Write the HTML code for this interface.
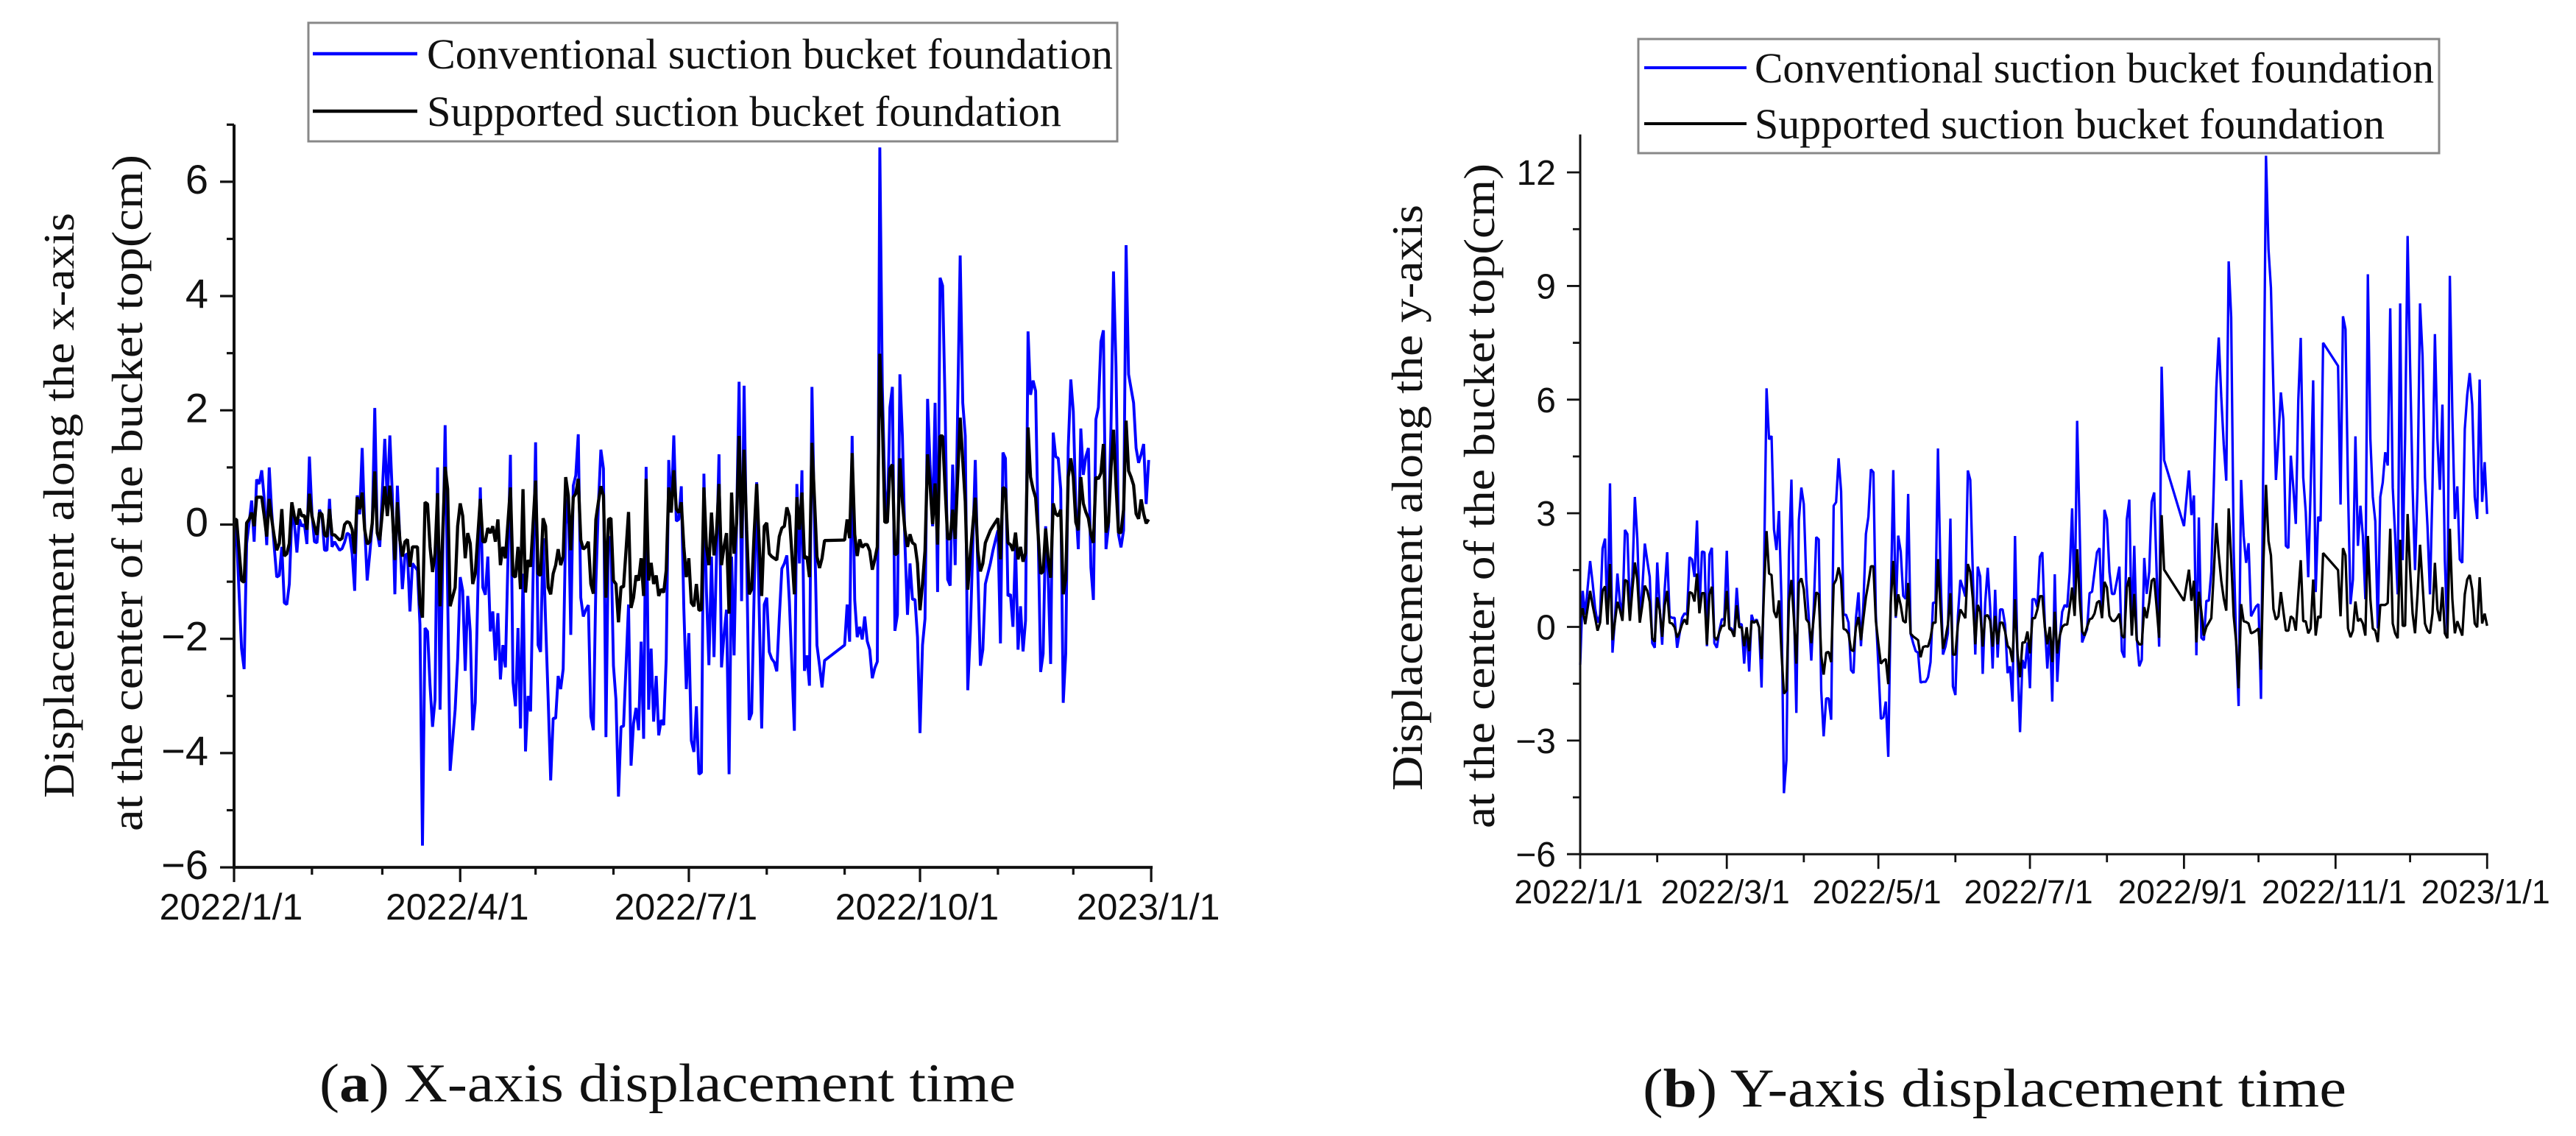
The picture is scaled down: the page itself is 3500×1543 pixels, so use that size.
<!DOCTYPE html>
<html lang="en">
<head>
<meta charset="utf-8">
<title>Displacement time charts</title>
<style>
html,body{margin:0;padding:0;background:#fff;}
svg{display:block;}
.serif{font-family:"Liberation Serif",serif;fill:#111;}
.sans{font-family:"Liberation Sans",sans-serif;fill:#111;}
</style>
</head>
<body>
<svg id="fig" xmlns="http://www.w3.org/2000/svg" width="3500" height="1543" viewBox="0 0 3500 1543">
  <rect x="0" y="0" width="3500" height="1543" fill="#fff"/>

  <g id="chartA"></g>
  <g id="chartB"></g>

  <g>
    <rect x="419" y="31" width="1099" height="161" fill="#fff" stroke="#888" stroke-width="3"/>
    <line x1="425" y1="73" x2="567" y2="73" stroke="#0000ff" stroke-width="4.5"/>
    <line x1="425" y1="151" x2="567" y2="151" stroke="#000" stroke-width="4.5"/>
    <text class="serif" x="580" y="93" font-size="58" textLength="932" lengthAdjust="spacingAndGlyphs">Conventional suction bucket foundation</text>
    <text class="serif" x="580" y="171" font-size="58" textLength="862" lengthAdjust="spacingAndGlyphs">Supported suction bucket foundation</text>
  </g>

  <g>
    <rect x="2226" y="53" width="1088" height="155" fill="#fff" stroke="#888" stroke-width="3"/>
    <line x1="2234" y1="92" x2="2373" y2="92" stroke="#0000ff" stroke-width="4"/>
    <line x1="2234" y1="168" x2="2373" y2="168" stroke="#000" stroke-width="4"/>
    <text class="serif" x="2384" y="112" font-size="58" textLength="923" lengthAdjust="spacingAndGlyphs">Conventional suction bucket foundation</text>
    <text class="serif" x="2384" y="188" font-size="58" textLength="856" lengthAdjust="spacingAndGlyphs">Supported suction bucket foundation</text>
  </g>

  <text class="serif" transform="translate(100,1084) rotate(-90)" font-size="59" textLength="795" lengthAdjust="spacingAndGlyphs">Displacement along the x-axis</text>
  <text class="serif" transform="translate(193,1129) rotate(-90)" font-size="59" textLength="919" lengthAdjust="spacingAndGlyphs">at the center of the bucket top(cm)</text>
  <text class="serif" transform="translate(1932,1074) rotate(-90)" font-size="59" textLength="796" lengthAdjust="spacingAndGlyphs">Displacement along the y-axis</text>
  <text class="serif" transform="translate(2030,1125) rotate(-90)" font-size="59" textLength="903" lengthAdjust="spacingAndGlyphs">at the center of the bucket top(cm)</text>

  <text class="serif" x="434" y="1496" font-size="74" textLength="946" lengthAdjust="spacingAndGlyphs">(<tspan font-weight="bold">a</tspan>) X-axis displacement time</text>
  <text class="serif" x="2232" y="1503" font-size="74" textLength="956" lengthAdjust="spacingAndGlyphs">(<tspan font-weight="bold">b</tspan>) Y-axis displacement time</text>
</svg>

<script>
// ---------- shared calendar ----------
const monthStartDays = [0,31,59,90,120,151,181,212,243,273,304,334,365];

// ---------- chart (a): x-axis displacement ----------
const aDays = [
0,1,3,4,5,6,7,8,9,10,
11,12,13,14,15,16,17,18,19,20,
21,22,23,24,25,26,27,28,29,30,
31,32,33,34,35,36,37,38,39,40,
42,43,44,45,46,47,48,49,50,51,
52,53,54,55,56,57,58,60,61,62,
63,64,65,66,67,68,69,70,71,73,
74,75,76,77,78,79,80,81,82,84,
85,86,88,89,90,91,92,93,94,95,
96,98,99,100,101,102,103,104,105,106,
107,108,110,111,112,113,114,115,116,117,
118,120,121,122,123,124,125,126,127,128,
129,130,131,132,133,134,135,136,137,138,
139,140,141,142,143,144,145,146,147,148,
149,150,151,152,153,154,155,156,157,158,
159,160,161,162,163,164,165,166,167,168,
169,170,171,172,173,174,175,176,177,178,
179,180,181,182,183,184,185,186,187,188,
189,190,191,192,193,194,195,196,197,198,
199,200,201,202,203,204,205,206,207,208,
209,210,211,212,213,214,215,216,217,218,
219,220,221,222,223,224,225,226,227,228,
229,230,231,232,233,234,235,243,244,245,
246,247,248,249,250,251,252,253,254,255,
256,257,258,259,260,261,262,263,264,265,
266,267,268,269,270,271,272,273,274,275,
276,277,278,279,280,281,282,283,284,285,
286,287,288,289,290,291,292,293,294,295,
296,297,298,299,300,301,302,303,304,305,
306,307,308,309,310,311,312,313,314,315,
316,317,318,319,320,321,322,323,324,325,
326,327,328,329,330,331,332,333,334,335,
336,337,338,339,340,341,342,343,344,345,
346,347,348,349,350,351,352,353,354,355,
356,357,358,359,360,361,362,363,364
];
const aConventional = [
0,-.2,-2.17,-2.53,-.33,.03,.42,-.3,.79,.71,
.95,.45,-.36,1,.21,-.39,-.92,-.89,-.39,-1.37,
-1.4,-1.04,.15,.03,-.49,.09,-.03,0,-.34,1.19,
.21,-.3,-.32,.26,.15,-.45,-.45,.45,-.39,-.3,
-.45,-.42,-.31,-.15,-.18,-.51,-1.16,.51,.18,1.34,
-.03,-.98,-.51,0,2.04,-.15,-.39,1.5,.39,1.56,
.51,-1.22,.68,-.27,-1.13,-.54,-.51,-1.52,-.68,-.8,
-1.75,-5.62,-1.81,-1.87,-2.82,-3.54,-3.06,1,-3.24,1.74,
-1.16,-4.31,-3.24,-2.35,-.92,-1.16,-2.56,-1.25,-1.87,-3.6,
-3.12,.65,-1.1,-1.23,-.56,-1.87,-1.52,-2.38,-1.55,-2.71,
-2.11,-2.5,1.22,-2.76,-3.18,-1.81,-3.57,-.86,-3.97,-3,
-3.27,1.44,-2.11,-2.23,-.24,-1.7,-3.06,-4.48,-3.39,-3.39,
-2.65,-2.88,-2.53,0,.51,-1.93,.68,.86,1.58,-1.28,
-1.61,-1.49,-1.41,-3.36,-3.6,-1.04,.33,1.31,.98,-3.72,
-.21,-.27,-2.47,-3.06,-4.76,-3.54,-3.53,-2.47,-1.4,-4.22,
-3.48,-3.21,-3.6,-2.05,-3.75,1.01,-3.24,-2.17,-3.45,-2.65,
-3.69,-3.42,-3.51,-2.35,1.13,.21,1.56,.06,.09,.67,
-1.46,-2.88,-1.9,-3.78,-3.98,-3.18,-4.37,-4.34,.89,-1.16,
-2.46,-.56,-2.32,-.56,1.23,-2.5,-1.93,-1.49,-4.37,-.56,
-2.29,.03,2.5,-1.34,2.43,-.56,-3.42,-3.3,-1.16,.74,
-1.46,-3.57,-1.4,-1.28,-2.23,-2.35,-2.41,-2.57,-1.64,-.77,
-.68,-.54,-1.34,-2.47,-3.61,.71,-.68,.95,-2.56,-2.29,
-2.82,2.41,.03,-2.11,-2.47,-2.85,-2.38,-2.11,-1.4,-2.05,
1.55,-1.32,-1.97,-1.79,-2.01,-1.61,-2.04,-2.19,-2.69,-2.51,
-2.4,6.6,2.4,.62,.04,2.05,2.41,-1.86,-1.58,2.63,
1.55,-.32,-1.58,-.68,-1.31,-1.31,-1.97,-3.65,-2.11,-1.65,
2.2,1.05,-.03,2.13,-1.18,4.32,4.18,2.05,-.96,-1.07,
1.05,-.71,2.05,4.71,2.13,1.55,-2.9,-1.9,-.39,1.13,
-.75,-2.47,-2.19,-1.04,-.86,-.68,-.46,-.28,-.1,-2.08,
1.26,1.16,-1.25,-1.22,-1.79,-.35,-2.19,-1.43,-2.22,-1.68,
3.38,2.27,2.52,2.34,-.1,-2.58,-2.26,-.03,-.89,-2.44,
1.61,1.19,1.16,.62,-3.12,-2.26,1.34,2.54,1.98,.33,
-.43,1.68,.87,1.19,1.34,-.75,-1.32,1.84,2.05,3.2,
3.4,-.43,-.03,1.7,4.43,2.77,-.17,-.4,-.1,4.89,
2.63,2.38,2.13,1.34,1.08,1.23,1.41,.36,1.13
];
const aSupported = [
.09,.09,-.98,-1.01,.03,.09,.21,-.03,.48,.48,
.48,.15,-.21,.45,.09,-.21,-.45,-.33,.27,-.55,
-.51,-.33,.39,.15,0,.28,.15,.16,-.09,.54,
.15,-.03,-.18,.21,.18,-.18,-.21,.27,-.18,-.18,
-.27,-.24,0,.05,.03,-.09,-.51,.48,.27,.56,
-.09,-.34,-.3,.03,.93,-.15,-.27,.67,.15,.68,
.21,-.62,.39,-.27,-.56,-.3,-.26,-.74,-.39,-.39,
-1.4,-1.63,.39,.36,-.39,-.83,-.51,.55,-1.43,1.01,
.62,-1.43,-1.1,-.03,.37,.15,-.59,-.15,-.33,-1.04,
-.86,.45,-.3,-.3,-.06,-.15,-.03,-.3,.09,-.71,
-.39,-.59,.65,-.89,-.92,-.39,-1.13,.62,-1.19,-.62,
-.74,.77,-.86,-.89,.11,-.03,-1.1,-1.22,-.86,-.71,
-.43,-.71,-.56,.83,.51,-.45,.48,.54,.8,-.27,
-.43,-.39,-.3,-1.04,-1.21,.09,.39,.67,.51,-1.28,
.09,.11,-.98,-1.04,-1.71,-1.09,-1.09,-.45,.22,-1.46,
-1.28,-.89,-.98,-.59,-1.25,.8,-.98,-.67,-1.04,-.89,
-1.25,-1.13,-1.19,-.8,.65,.21,.95,.27,.21,.39,
-.39,-.92,-.59,-1.37,-1.43,-1.04,-1.5,-1.49,.65,-.39,
-.71,.21,-.54,-.15,.71,-.71,-.39,-.15,-1.56,.56,
-.51,.03,1.55,-.24,1.31,-.09,-1.22,-1.13,-.15,.71,
-.33,-1.25,-.03,.03,-.51,-.56,-.59,-.62,-.21,-.06,
-.03,.3,.15,-.51,-1.22,.48,-.09,.56,-.59,-.56,
-.92,1.43,.45,-.56,-.76,-.59,-.28,-.27,.09,-.24,
1.25,-.17,-.55,-.26,-.4,-.35,-.35,-.46,-.79,-.61,
-.39,2.99,1.84,.04,.04,.98,1.05,-.53,-.5,1.16,
.4,-.1,-.39,-.17,-.32,-.35,-.68,-1.5,-1.04,-.46,
1.23,.69,.01,.72,-.35,1.55,1.55,.62,-.25,-.25,
.26,-.25,.83,1.87,1.12,.4,-1.14,-.53,-.03,.47,
-.46,-.82,-.68,-.32,-.21,-.1,-.03,.04,.11,-.61,
.65,.62,-.32,-.35,-.46,-.14,-.61,-.39,-.65,-.5,
1.7,.83,.62,.47,-.17,-.86,-.82,-.07,-.61,-.93,
.37,.19,.15,.26,-1.22,-.96,.83,1.16,.83,.04,
-.1,.83,.37,.22,.11,-.17,-.32,.83,.8,.9,
1.41,-.14,.04,.98,1.66,.69,-.14,-.14,.26,1.82,
.94,.83,.69,.19,.1,.44,.19,.02,.09
];
const aYMajorTicks = [-6,-4,-2,0,2,4,6];
const aYMinorTicks = [-5,-3,-1,1,3,5,7];
const aYTickLabels = ['\u22126','\u22124','\u22122','0','2','4','6'];
const aXMajorMonths = [0,3,6,9,12];
const aXTickLabels = ['2022/1/1','2022/4/1','2022/7/1','2022/10/1','2023/1/1'];

// ---------- chart (b): y-axis displacement ----------
const bDays = [
0,1,2,3,4,5,6,7,8,9,
10,11,12,13,14,15,16,17,18,19,
20,21,22,23,24,25,26,27,28,29,
30,31,32,33,34,35,36,37,38,39,
40,41,42,43,44,45,46,47,48,49,
50,51,52,53,54,55,56,57,58,59,
60,61,62,63,64,65,66,67,68,69,
70,71,72,73,74,75,76,77,78,79,
80,81,82,83,84,85,86,87,88,89,
90,91,92,93,94,95,96,97,98,99,
100,101,102,103,104,105,106,107,108,109,
110,111,112,113,114,115,116,117,118,119,
120,121,122,123,124,125,126,127,128,129,
130,131,132,133,134,135,136,137,138,139,
140,141,142,143,144,145,146,147,148,149,
150,151,152,153,154,155,156,157,158,159,
160,161,162,163,164,165,166,167,168,169,
170,171,172,173,174,175,176,177,178,179,
180,181,182,183,184,185,186,187,188,189,
190,191,192,193,194,195,196,197,198,199,
200,201,202,203,204,205,206,207,208,209,
210,211,212,213,214,215,216,217,218,219,
220,221,222,223,224,225,226,227,228,229,
230,231,232,233,234,235,243,245,246,247,
248,249,250,251,252,253,254,255,256,257,
258,259,260,261,262,263,264,265,266,267,
268,269,270,271,272,273,274,275,276,277,
278,279,280,281,282,283,284,285,286,287,
288,289,290,291,292,293,294,295,296,297,
298,299,305,306,307,308,309,310,311,312,
313,314,315,316,317,318,319,320,321,322,
323,324,325,326,327,328,329,330,331,332,
333,334,335,336,337,338,339,340,341,342,
343,344,345,346,347,348,349,350,351,352,
353,354,355,356,357,358,359,360,361,362,
363,364,365
];
const bConventional = [
-1,.95,.32,1.03,1.74,1.16,.49,.11,.32,2.07,
2.33,.07,3.79,-.68,.24,1.41,.66,.32,2.56,2.45,
.41,1.32,3.43,2.33,.24,.99,2.2,1.74,1.32,-.43,
-.55,1.7,.49,-.47,.99,1.97,.28,.24,.24,-.55,
-.18,.24,.36,.32,1.84,1.78,1.32,2.81,.41,1.99,
1.97,-.51,1.91,2.09,-.43,-.55,-.1,.2,.2,2.01,
-.01,-.05,-.22,1.03,.07,.07,-.97,-.01,-1.18,.32,
.11,.2,-.01,-1.6,1.49,6.3,4.95,5.04,2.58,2.03,
3.06,.66,-4.39,-3.52,1.91,3.89,.66,-2.27,2.82,3.68,
3.24,1.24,.24,-.89,.49,2.37,2.31,-1.68,-2.89,-1.89,
-1.89,-2.45,3.2,3.29,4.45,3.58,.32,.32,.11,-1.14,
-1.22,.24,.91,-.51,.66,2.45,2.91,4.16,4.08,.32,
-1.01,-2.43,-2.39,-1.97,-3.43,.66,4.14,.24,2.41,1.99,
.82,.74,3.51,-.18,-.43,-.64,-.68,-1.47,-1.45,-1.45,
-1.33,-.93,.64,.64,4.71,1.45,-.73,-.52,-.17,2.86,
-1.57,-1.8,.29,1.24,1.04,.8,4.13,3.88,1.45,-.73,
1.59,1.33,-1.24,.64,1.56,.52,-1.1,.98,-.81,.46,
.46,.06,-1.22,-1.04,-1.97,2.4,-.87,-2.78,-.87,-1.1,
-.41,-1.62,.73,.73,.52,1.85,1.97,.06,-1.1,-.06,
-1.97,1.39,-1.45,-.29,.4,.58,.52,1.45,3.13,.4,
5.44,2.6,-.41,-.23,-.06,.89,.93,1.45,1.97,2.08,
.29,3.09,2.84,1.45,.87,.87,1.22,1.59,-.64,-.81,
2.84,3.36,-.23,2.14,-.29,-1.04,-.87,1.82,.87,1.45,
3.3,3.55,1.45,-.52,6.87,4.4,2.66,4.13,2.95,3.47,
-.75,2.89,-.29,-.35,.69,.69,1.45,3.76,6.31,7.64,
6.08,4.81,3.86,9.65,8.17,2.03,-.41,-2.09,3.88,2.4,
1.69,2.21,.28,.41,.54,.6,-1.9,4.97,12.44,9.97,
8.95,6.25,3.88,4.97,6.19,5.48,2.14,2.08,4.52,3.68,
2.72,5.99,7.63,3.94,3.04,1.31,3.68,6.51,.92,2.91,
2.79,7.5,6.89,3.23,8.2,7.86,3.68,.6,1.25,5.03,
2.14,3.2,2.4,.73,9.31,4.97,3.43,2.79,-.04,3.43,
3.81,4.61,4.26,8.41,3.68,2.4,.86,8.54,1.76,4.97,
10.32,6.89,3.68,1.5,3.68,8.54,7.15,3.94,2.66,.86,
3.68,7.73,4.97,3.62,5.87,1.76,-.17,9.27,5.61,2.85,
3.71,1.78,1.69,5.22,6.12,6.7,5.87,3.43,2.85,6.53,
3.3,4.35,2.98
];
const bSupported = [
.24,.49,.07,.49,.95,.57,.24,-.1,.11,.95,
1.07,.06,1.66,-.35,.16,.66,.45,.16,1.24,1.2,
.16,.99,1.7,1.24,.11,.57,1.09,.95,.66,-.3,
-.39,.78,.45,-.26,.57,.95,.11,.09,-.01,-.28,
-.14,.07,.2,.06,.92,.89,.67,1.41,.36,.89,
.89,-.47,.86,1.06,-.26,-.35,-.14,.03,.03,.95,
-.05,-.1,-.26,.57,-.01,-.01,-.51,-.01,-.64,.16,
.11,.17,-.01,-.85,.99,2.53,1.41,1.37,.41,.24,
.7,-.68,-1.76,-1.68,.66,1.24,.24,-.97,1.16,1.28,
.99,.2,.11,-.43,.24,.91,.86,-.76,-1.26,-.68,
-.66,-.93,1.12,1.24,1.57,1.24,-.05,-.08,-.18,-.6,
-.64,-.01,.26,-.35,.24,.78,1.16,1.6,1.6,.16,
-.43,-.97,-.89,-.85,-1.51,.66,1.74,.28,.86,.57,
.16,.11,1.16,-.18,-.25,-.3,-.35,-.8,-.53,-.51,
-.52,-.29,.11,.11,1.79,.52,-.58,-.29,.06,.89,
-.73,-.73,.06,.46,.35,.23,1.66,1.45,.75,-.46,
.58,.4,-.52,.29,.31,.17,-.52,.29,-.46,.11,
.11,-.12,-.5,-.58,-.93,.73,-.7,-1.33,-.41,-.41,
-.12,-.7,.23,.23,.46,.81,.81,0,-.46,0,
-.93,.4,-.7,-.23,0,.06,.06,.52,1.04,.29,
2.05,.75,-.12,-.23,0,.2,.23,.35,.64,.69,
.23,1.19,1.04,.29,.17,.15,.23,.35,-.23,-.29,
1.04,1.31,-.23,.87,-.35,-.46,-.46,.52,.23,.64,
1.22,1.28,.52,-.29,2.95,1.51,.69,1.51,.69,1.22,
-.41,.93,.4,-.23,0,.11,.23,1.45,2.74,1.91,
1.22,.75,.43,3.13,1.79,.29,-.41,-1.62,.6,.15,
.13,.09,-.17,-.14,-.1,-.04,-1.13,1.76,3.75,2.27,
1.89,.47,.19,.28,.92,.41,-.1,-.1,.28,.22,
-.1,.86,1.76,.15,.15,-.17,-.04,1.25,-.23,.28,
.24,1.95,1.5,.28,2.08,1.89,-.04,-.27,-.1,.67,
.15,.22,.09,-.23,2.4,.73,-.04,-.1,-.4,.58,
.58,.58,.63,2.59,.09,-.17,-.3,2.3,.03,.03,
2.98,1.5,.35,-.17,.86,2.17,1.12,.09,-.1,-.17,
.35,1.69,.47,.15,1.05,-.17,-.3,2.59,.73,-.17,
.15,-.04,-.23,.86,1.25,1.37,.99,.09,-.01,1.31,
.09,.35,.03
];
const bYMajorTicks = [-6,-3,0,3,6,9,12];
const bYMinorTicks = [-4.5,-1.5,1.5,4.5,7.5,10.5];
const bYTickLabels = ['\u22126','\u22123','0','3','6','9','12'];
const bXMajorMonths = [0,2,4,6,8,10,12];
const bXTickLabels = ['2022/1/1','2022/3/1','2022/5/1','2022/7/1','2022/9/1','2022/11/1','2023/1/1'];

// ---------- axis functions ----------
const SVG_NS = 'http://www.w3.org/2000/svg';
const aX = d => 318 + d * 3.414;
const aY = v => 712.5 - v * 77.6;
const bX = d => 2147 + d * 3.376;
const bY = v => 851.5 - v * 51.45;

function mk(parent, tag, props) {
  const el = document.createElementNS(SVG_NS, tag);
  for (const k in props) el.setAttribute(k, props[k]);
  parent.appendChild(el);
  return el;
}
function pathFor(days, vals, xf, yf) {
  let d = '';
  for (let i = 0; i < days.length; i++) {
    d += (i ? 'L' : 'M') + xf(days[i]).toFixed(1) + ' ' + yf(vals[i]).toFixed(1);
  }
  return d;
}

function drawChart(root, cfg) {
  const g = document.getElementById(root);
  const x0 = cfg.xf(0), x1 = cfg.xf(365), y0 = cfg.yf(cfg.yMin), yT = cfg.yf(cfg.yMax);

  const blue = mk(g, 'path', {d: pathFor(cfg.days, cfg.conv, cfg.xf, cfg.yf), fill: 'none', stroke: '#0000ff', 'stroke-width': cfg.blueW, 'stroke-linejoin': 'bevel'});
  
  
  const black = mk(g, 'path', {d: pathFor(cfg.days, cfg.supp, cfg.xf, cfg.yf), fill: 'none', stroke: '#000', 'stroke-width': cfg.blackW, 'stroke-linejoin': 'bevel'});
  
  

  const yAxis = mk(g, 'line', {x1: x0, y1: yT, x2: x0, y2: y0 + cfg.axisW / 2, stroke: '#111', 'stroke-width': cfg.axisW});
  
  
  const xAxis = mk(g, 'line', {x1: x0 - cfg.axisW / 2, y1: y0, x2: x1 + cfg.axisW / 2, y2: y0, stroke: '#111', 'stroke-width': cfg.axisW});
  
  

  cfg.yMajor.forEach((v, i) => {
    const t = mk(g, 'line', {x1: x0 - cfg.yMajorLen, y1: cfg.yf(v), x2: x0, y2: cfg.yf(v), stroke: '#111', 'stroke-width': cfg.tickW});
    
    
    const l = mk(g, 'text', {class: 'sans', x: cfg.yLabelX, y: cfg.yf(v) + cfg.yLabelDy, 'text-anchor': 'end', 'font-size': cfg.yFont});
    l.textContent = cfg.yLabels[i];
    
    
  });
  cfg.yMinor.forEach(v => {
    const t = mk(g, 'line', {x1: x0 - cfg.yMinorLen, y1: cfg.yf(v), x2: x0, y2: cfg.yf(v), stroke: '#111', 'stroke-width': cfg.tickW});
    
    
  });

  monthStartDays.forEach((d, m) => {
    const idx = cfg.xMajor.indexOf(m);
    const major = idx >= 0;
    const t = mk(g, 'line', {x1: cfg.xf(d), y1: y0, x2: cfg.xf(d), y2: y0 + (major ? cfg.xMajorLen : cfg.xMinorLen), stroke: '#111', 'stroke-width': cfg.tickW});
    
    
    if (major) {
      const l = mk(g, 'text', {class: 'sans', x: cfg.xf(d) - cfg.xLabelShift, y: cfg.xLabelY, 'text-anchor': 'middle', 'font-size': cfg.xFont});
      l.textContent = cfg.xLabels[idx];
      
      
    }
  });
}

drawChart('chartA', {
  days: aDays, conv: aConventional, supp: aSupported, xf: aX, yf: aY,
  yMin: -6, yMax: 7, yMajor: aYMajorTicks, yMinor: aYMinorTicks, yLabels: aYTickLabels,
  xMajor: aXMajorMonths, xLabels: aXTickLabels,
  blueW: 3.9, blackW: 4.3, axisW: 4, tickW: 3.2, yMajorLen: 19, yMinorLen: 10, xMajorLen: 20, xMinorLen: 10,
  yLabelX: 283, yLabelDy: 16, yFont: 56, xLabelShift: 4, xLabelY: 1249, xFont: 50
});
drawChart('chartB', {
  days: bDays, conv: bConventional, supp: bSupported, xf: bX, yf: bY,
  yMin: -6, yMax: 13, yMajor: bYMajorTicks, yMinor: bYMinorTicks, yLabels: bYTickLabels,
  xMajor: bXMajorMonths, xLabels: bXTickLabels,
  blueW: 3.3, blackW: 3.3, axisW: 3, tickW: 2.8, yMajorLen: 18, yMinorLen: 10, xMajorLen: 20, xMinorLen: 11,
  yLabelX: 2114, yLabelDy: 17, yFont: 48, xLabelShift: 2, xLabelY: 1227, xFont: 45
});
</script>
</body>
</html>
